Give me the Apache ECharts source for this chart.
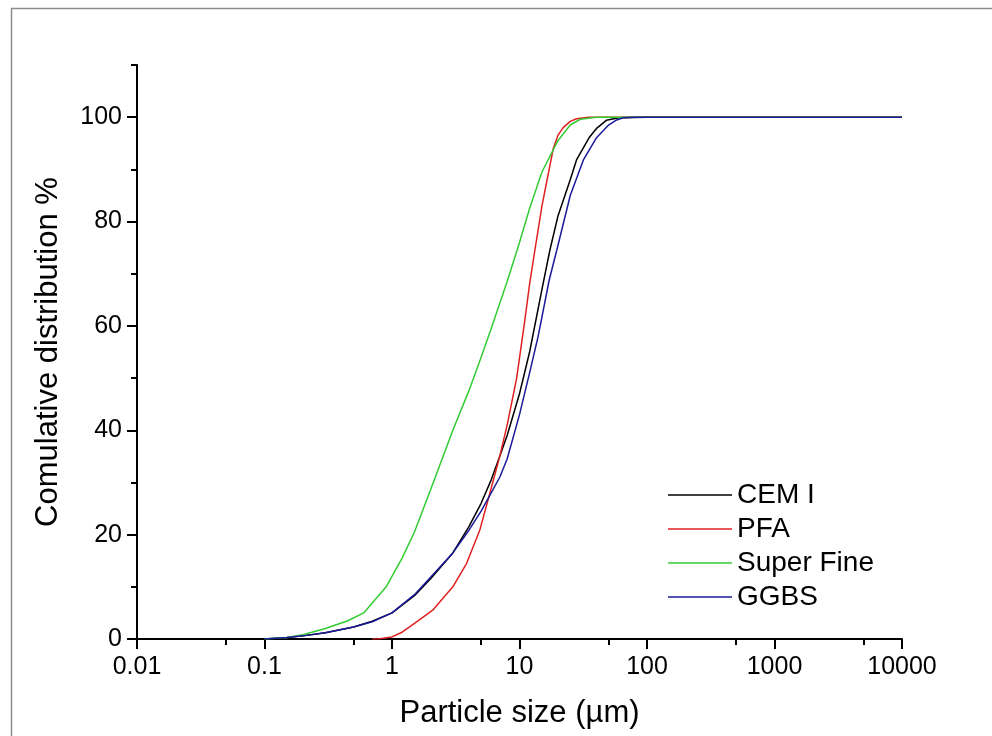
<!DOCTYPE html>
<html><head><meta charset="utf-8">
<script src="https://cdn.jsdelivr.net/npm/echarts@6/dist/echarts.min.js"></script>
<style>html,body{margin:0;padding:0;background:#fff}#c{width:992px;height:736px}</style>
</head><body><div id="c"></div>
<script>
const xTickValues = [0.01, 0.1, 1, 10, 100, 1000, 10000];
const xMinorTickValues = [0.05, 0.5, 5, 50, 500, 5000];
const yTickValues = [0, 20, 40, 60, 80, 100];
const yMinorTickValues = [10, 30, 50, 70, 90, 110];
const seriesNames = ['CEM I', 'PFA', 'Super Fine', 'GGBS'];
const seriesColors = ['#000000', '#e02020', '#33cc33', '#1a1a9a'];

const cemSize = [0.1,0.15,0.2,0.3,0.5,0.7,1,1.5,2,3,4,5,6,7,8,10,12,15,17.3,20,25,28,35,40,48,60,100,1000,10000];
const cemValue = [0,0.3,0.6,1.2,2.3,3.4,5,8.3,11.5,16.5,21.5,26,30.5,35,39,47,55,67,74.5,81,88,91.8,96,97.8,99.4,99.9,100,100,100];

const pfaSize = [0.7,0.8,1,1.2,1.5,2.1,3,3.85,4.9,5.5,7,8,9.5,11,12,13.2,15,18.4,20,22,25,28,35,100,1000,10000];
const pfaValue = [0,0.05,0.4,1.3,3,5.6,10,14.5,21,25.5,35,41,50,61,68,74.5,83,94,96.5,98,99.2,99.7,100,100,100,100];

const sfSize = [0.1,0.15,0.2,0.3,0.45,0.6,0.9,1.2,1.5,2,3,4,5,6,8,10,12,15,20,25,30,40,100,1000,10000];
const sfValue = [0,0.3,0.8,2,3.5,5,10,15.5,20.5,28.5,40,47.5,54,59.5,68.5,76,82.5,89.5,95.5,98.5,99.6,100,100,100,100];

const ggbsSize = [0.1,0.15,0.2,0.3,0.5,0.7,1,1.5,2,3,4,5,6,7,8,10,12,14,17.1,19.6,25,31.7,40,50,57,65,80,100,1000,10000];
const ggbsValue = [0,0.3,0.6,1.2,2.3,3.3,5,8.5,11.8,16.5,20.8,24.5,28,31,34.5,43,51,58,68.8,74.5,85,91.8,96,98.5,99.4,99.9,100,100,100,100];

const sizes = [cemSize, pfaSize, sfSize, ggbsSize];
const values = [cemValue, pfaValue, sfValue, ggbsValue];

const FONT = 'Liberation Sans, Arial, sans-serif';
const chart = echarts.init(document.getElementById('c'), null, {renderer: 'canvas'});

const gridBox = {left: 137, right: 90, top: 65, bottom: 97, containLabel: false, outerBoundsMode: 'none'};

const option = {
  backgroundColor: '#ffffff',
  animation: false,
  textStyle: {fontFamily: FONT},
  graphic: [{
    type: 'rect', left: 9, top: 6, silent: true,
    shape: {x: 0, y: 0, width: 1200, height: 900},
    style: {fill: 'none', stroke: '#8c8c8c', lineWidth: 1.5}
  }],
  grid: [Object.assign({}, gridBox), Object.assign({}, gridBox)],
  legend: {
    data: seriesNames,
    orient: 'vertical',
    left: 663, top: 473,
    icon: 'rect',
    itemWidth: 64, itemHeight: 1.5, itemGap: 0,
    textStyle: {fontSize: 28, lineHeight: 34, color: '#000', fontFamily: FONT}
  },
  xAxis: [{
    gridIndex: 0, type: 'log', logBase: 10, min: 0.01, max: 10000, splitNumber: 6,
    name: 'Particle size (\u00b5m)', nameLocation: 'middle', nameGap: 59,
    nameTextStyle: {fontSize: 31, color: '#000', fontFamily: FONT},
    axisLine: {show: true, onZero: false, lineStyle: {color: '#000', width: 2}},
    axisTick: {show: true, length: 10, lineStyle: {color: '#000', width: 2}},
    axisLabel: {fontSize: 25, color: '#000', margin: 16, fontFamily: FONT,
      formatter: v => String(+(+v).toPrecision(6))},
    splitLine: {show: false}, minorTick: {show: false}
  }, {
    gridIndex: 1, type: 'value', min: -2, max: 4,
    axisLine: {show: false, onZero: false},
    axisTick: {show: true, length: 6, customValues: xMinorTickValues.map(v => Math.log10(v)),
      lineStyle: {color: '#000', width: 2}},
    axisLabel: {show: false},
    splitLine: {show: false}
  }],
  yAxis: [{
    gridIndex: 0, type: 'value', min: 0, max: 110, interval: 20,
    name: 'Comulative distribution %', nameLocation: 'middle', nameGap: 73,
    nameTextStyle: {fontSize: 31, color: '#000', fontFamily: FONT},
    axisLine: {show: true, onZero: false, lineStyle: {color: '#000', width: 2}},
    axisTick: {show: true, length: 10, customValues: yTickValues, lineStyle: {color: '#000', width: 2}},
    axisLabel: {fontSize: 25, color: '#000', margin: 15, customValues: yTickValues, fontFamily: FONT},
    splitLine: {show: false}
  }, {
    gridIndex: 1, type: 'value', min: 0, max: 110,
    axisLine: {show: false, onZero: false},
    axisTick: {show: true, length: 6, customValues: yMinorTickValues, lineStyle: {color: '#000', width: 2}},
    axisLabel: {show: false},
    splitLine: {show: false}
  }],
  series: seriesNames.map((name, i) => ({
    name: name,
    type: 'line',
    xAxisIndex: 0, yAxisIndex: 0,
    data: sizes[i].map((s, j) => [s, values[i][j]]),
    symbol: 'none', showSymbol: false,
    smooth: false,
    color: seriesColors[i],
    itemStyle: {color: seriesColors[i]},
    lineStyle: {color: seriesColors[i], width: 1.5}
  }))
};
chart.setOption(option);
</script>
</body></html>
